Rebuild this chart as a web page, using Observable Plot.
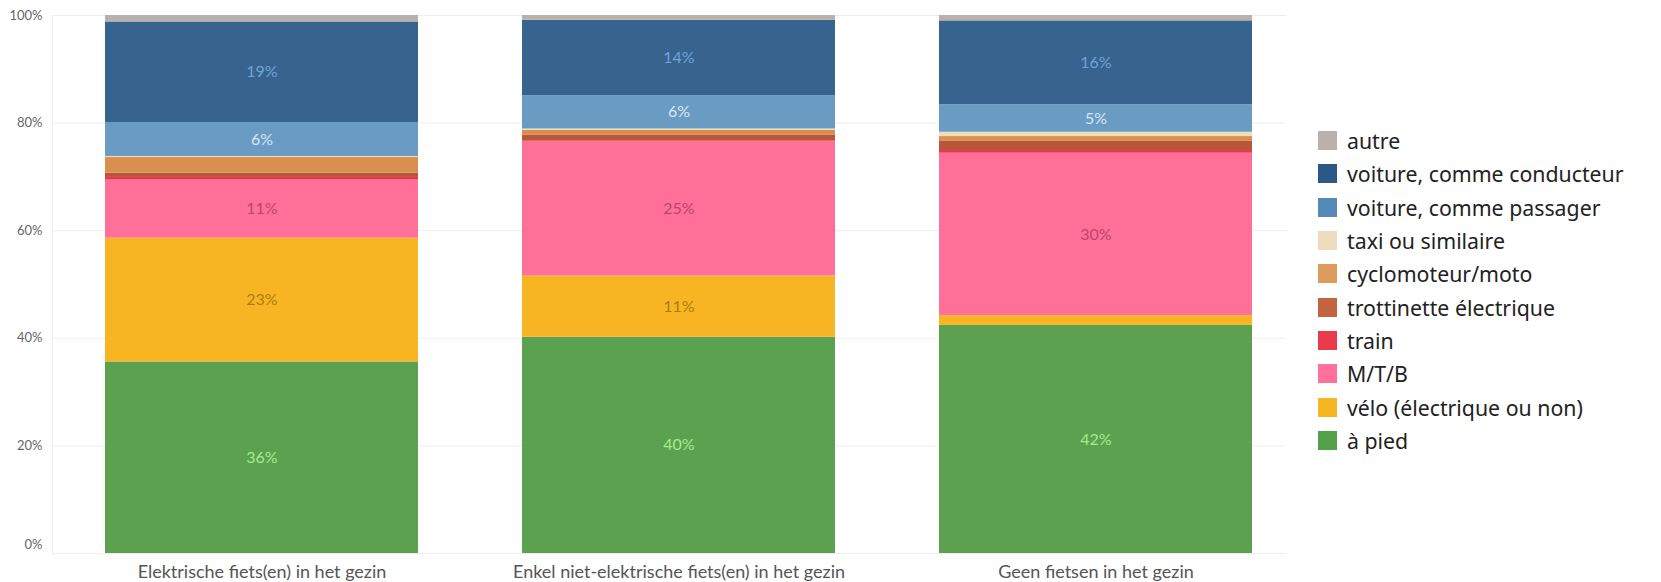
<!DOCTYPE html>
<html>
<head>
<meta charset="utf-8">
<script src="https://cdn.jsdelivr.net/npm/d3@7"></script>
<script src="https://cdn.jsdelivr.net/npm/@observablehq/plot@0.6"></script>
<style>
  html, body { margin: 0; padding: 0; background: #fff; }
  #wrap { position: relative; width: 1661px; height: 582px; overflow: hidden; }
  #legend { position: absolute; left: 1318px; top: 124px; font-family: "Noto Sans", sans-serif; font-size: 21.3px; color: #222; }
  .row { height: 33.3px; display: flex; align-items: center; white-space: nowrap; }
  .sw { width: 19px; height: 19px; margin-right: 10px; flex: none; }
</style>
</head>
<body>
<div id="wrap"><div id="chart"></div><div id="legend"></div></div>
<script>
// Categories (x axis)
const groups = [
  "Elektrische fiets(en) in het gezin",
  "Enkel niet-elektrische fiets(en) in het gezin",
  "Geen fietsen in het gezin"
];
// Modes, stacked bottom to top
const modes = [
  "à pied",
  "vélo (électrique ou non)",
  "M/T/B",
  "train",
  "trottinette électrique",
  "cyclomoteur/moto",
  "taxi ou similaire",
  "voiture, comme passager",
  "voiture, comme conducteur",
  "autre"
];
// Legend order (top to bottom)
const legendOrder = modes.slice().reverse();

// Shares (%) per mode, one value per group
const aPied       = [35.6, 40.2, 42.4];
const velo        = [23.0, 11.4, 1.8];
const mtb         = [10.8, 24.9, 30.2];
const train       = [0.5, 0.2, 0.5];
const trottinette = [0.8, 1.1, 1.7];
const cyclomoteur = [2.9, 0.85, 0.9];
const taxi        = [0.2, 0.25, 0.8];
const passager    = [6.3, 6.2, 5.1];
const conducteur  = [18.7, 14.0, 15.6];
const autre       = [1.2, 0.9, 1.0];

const yTicks = [0, 20, 40, 60, 80, 100];

// Styles
const barColors = ["#5BA150", "#F8B523", "#FF7099", "#E8384D", "#B8553A", "#D9904F", "#EFDDBF", "#6A9BC3", "#37648F", "#BAB0AC"];
const labelColors = ["#A8EA92", "#B07A0E", "#C2426C", "#fff", "#fff", "#fff", "#fff", "#D6E7F6", "#6FA3DA", "#fff"];
const legendColors = ["#55A04B", "#F6B620", "#FF719B", "#EA3A4B", "#C0653F", "#DE9B5E", "#EDDBBD", "#5688B9", "#2C5887", "#BAB0AC"];

const series = [aPied, velo, mtb, train, trottinette, cyclomoteur, taxi, passager, conducteur, autre];
const data = [];
modes.forEach((m, i) => {
  groups.forEach((g, j) => {
    data.push({group: g, mode: m, value: series[i][j], label: labelColors[i]});
  });
});

const chart = Plot.plot({
  width: 1661,
  height: 582,
  marginLeft: 52,
  marginRight: 375,
  marginTop: 15,
  marginBottom: 29,
  style: {fontFamily: "Lato, sans-serif", background: "#fff"},
  x: {domain: groups, paddingInner: 0.25, paddingOuter: 0.1025, align: 0.61, label: null},
  y: {domain: [0, 100], label: null},
  color: {domain: modes, range: barColors},
  marks: [
    Plot.gridY(yTicks, {stroke: "#eeeeee", strokeOpacity: 1}),
    Plot.frame({anchor: "left", stroke: "#eeeeee"}),
    Plot.barY(data, {x: "group", y: "value", fill: "mode", z: "mode", order: modes}),
    Plot.text(data, Plot.stackY({
      x: "group", y: "value", z: "mode", order: modes,
      text: d => d.value >= 4 ? Math.round(d.value) + "%" : "",
      fill: "label", fontSize: 16, fontFamily: "Lato, sans-serif"
    })),
    Plot.axisY(yTicks.filter(t => t > 0), {tickSize: 0, tickPadding: 10, tickFormat: d => d + "%", fontSize: 13, color: "#666", label: null}),
    Plot.axisY([0], {tickSize: 0, tickPadding: 10, tickFormat: d => d + "%", fontSize: 13, color: "#666", dy: -9, label: null}),
    Plot.axisX({tickSize: 0, tickPadding: 12, fontSize: 18, color: "#555", label: null})
  ]
});
document.getElementById("chart").appendChild(chart);

const legend = document.getElementById("legend");
legendOrder.forEach(m => {
  const row = document.createElement("div");
  row.className = "row";
  const sw = document.createElement("div");
  sw.className = "sw";
  sw.style.background = legendColors[modes.indexOf(m)];
  const t = document.createElement("span");
  t.textContent = m;
  row.appendChild(sw);
  row.appendChild(t);
  legend.appendChild(row);
});
</script>
</body>
</html>
